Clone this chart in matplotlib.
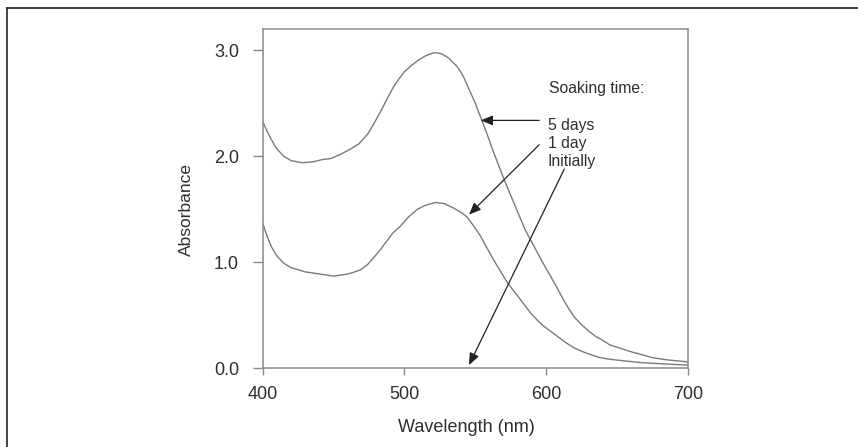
import matplotlib
matplotlib.use("Agg")
import matplotlib.pyplot as plt
from matplotlib.lines import Line2D

plt.rcParams['font.family'] = ['Liberation Sans', 'DejaVu Sans']

# Spectra (wavelength in nm, absorbance)
wl_5days = [400, 403, 406, 410, 415, 420, 428, 436, 442, 448, 455, 462, 468, 474,
            478, 483, 488, 492, 496, 500, 505, 510, 515, 521, 526, 531, 537, 541,
            545, 550, 554, 558, 562, 566, 570, 575, 580, 585, 591, 597, 603, 608,
            612, 616, 620, 625, 630, 635, 639, 645, 652, 660, 667, 675, 685, 700]
abs_5days = [2.33, 2.24, 2.16, 2.07, 2.00, 1.96, 1.94, 1.95, 1.97, 1.98, 2.02, 2.07,
             2.12, 2.21, 2.30, 2.42, 2.55, 2.65, 2.73, 2.80, 2.86, 2.91, 2.95, 2.98,
             2.97, 2.93, 2.85, 2.77, 2.65, 2.50, 2.36, 2.22, 2.07, 1.93, 1.79, 1.63,
             1.47, 1.31, 1.16, 1.01, 0.87, 0.75, 0.65, 0.56, 0.48, 0.41, 0.35, 0.30,
             0.27, 0.22, 0.19, 0.155, 0.13, 0.10, 0.08, 0.06]

wl_1day = [400, 403, 406, 410, 415, 420, 430, 440, 450, 460, 465, 469, 474, 478,
           483, 488, 492, 497, 503, 509, 515, 522, 528, 535, 540, 544, 549, 554,
           558, 563, 568, 573, 580, 584, 589, 594, 598, 603, 608, 614, 620, 626,
           632, 638, 645, 655, 667, 685, 700]
abs_1day = [1.37, 1.25, 1.15, 1.06, 0.99, 0.95, 0.91, 0.89, 0.87, 0.89, 0.91, 0.93,
            0.98, 1.04, 1.12, 1.21, 1.28, 1.34, 1.43, 1.50, 1.54, 1.565, 1.555, 1.51,
            1.47, 1.43, 1.34, 1.24, 1.14, 1.02, 0.91, 0.80, 0.68, 0.61, 0.52, 0.45,
            0.40, 0.35, 0.30, 0.24, 0.19, 0.155, 0.126, 0.10, 0.085, 0.07, 0.053,
            0.04, 0.03]

x_ticks = [400, 500, 600, 700]
y_ticks = [0.0, 1.0, 2.0, 3.0]

# labels: (text, baseline position), arrows: (tail, head)
labels = [('5 days', 2.252), ('1 day', 2.08), ('Initially', 1.905)]
arrows = [((595.0, 2.34), (553.8, 2.34)),
          ((595.0, 2.11), (545.5, 1.45)),
          ((612.7, 1.88), (545.5, 0.03))]

fig = plt.figure(figsize=(8.58, 4.47), dpi=100)
ax = fig.add_axes([0.3062, 0.1761, 0.4957, 0.7584])

line_col = '#7a7a7a'
text_col = '#2e2e2e'

ax.plot(wl_5days, abs_5days, color=line_col, lw=1.0, solid_joinstyle='round')
ax.plot(wl_1day, abs_1day, color=line_col, lw=1.0, solid_joinstyle='round')

ax.set_xlim(400, 700)
ax.set_ylim(0, 3.2)
ax.set_xticks(x_ticks)
ax.set_yticks(y_ticks)
ax.set_yticklabels(['{:.1f}'.format(v) for v in y_ticks])

for s in ax.spines.values():
    s.set_color('#8a8a8a')
    s.set_linewidth(1.1)
ax.tick_params(axis='x', direction='out', length=5, width=1, color='#8a8a8a',
               labelsize=13, labelcolor=text_col, pad=8)
ax.tick_params(axis='y', direction='out', length=7, width=1, color='#8a8a8a',
               labelsize=13, labelcolor=text_col, pad=10)

ax.set_xlabel('Wavelength (nm)', fontsize=13, color=text_col, va='center')
ax.xaxis.set_label_coords(0.478, -0.176)
ax.set_ylabel('Absorbance', fontsize=12.5, color=text_col, va='center')
ax.yaxis.set_label_coords(-0.180, 0.467)

# Annotations
ax.text(601.9, 2.60, 'Soaking time:', fontsize=11.3, color=text_col, va='baseline')
for txt, yb in labels:
    ax.text(601.2, yb, txt, fontsize=11.3, color=text_col, va='baseline')
for tail, head in arrows:
    ax.annotate('', xy=head, xytext=tail,
                arrowprops=dict(arrowstyle='-|>,head_length=0.6,head_width=0.25',
                                color='#222222', lw=0.9, mutation_scale=12,
                                shrinkA=0, shrinkB=0))

# Page frame (top and left edge only)
fig.add_artist(Line2D([7 / 858, 1], [1 - 7.5 / 447, 1 - 7.5 / 447],
                      transform=fig.transFigure, color='#222222', lw=1.2))
fig.add_artist(Line2D([7 / 858, 7 / 858], [0, 1 - 7.5 / 447],
                      transform=fig.transFigure, color='#222222', lw=1.2))

plt.savefig('out.png', dpi=100)
plt.close()
